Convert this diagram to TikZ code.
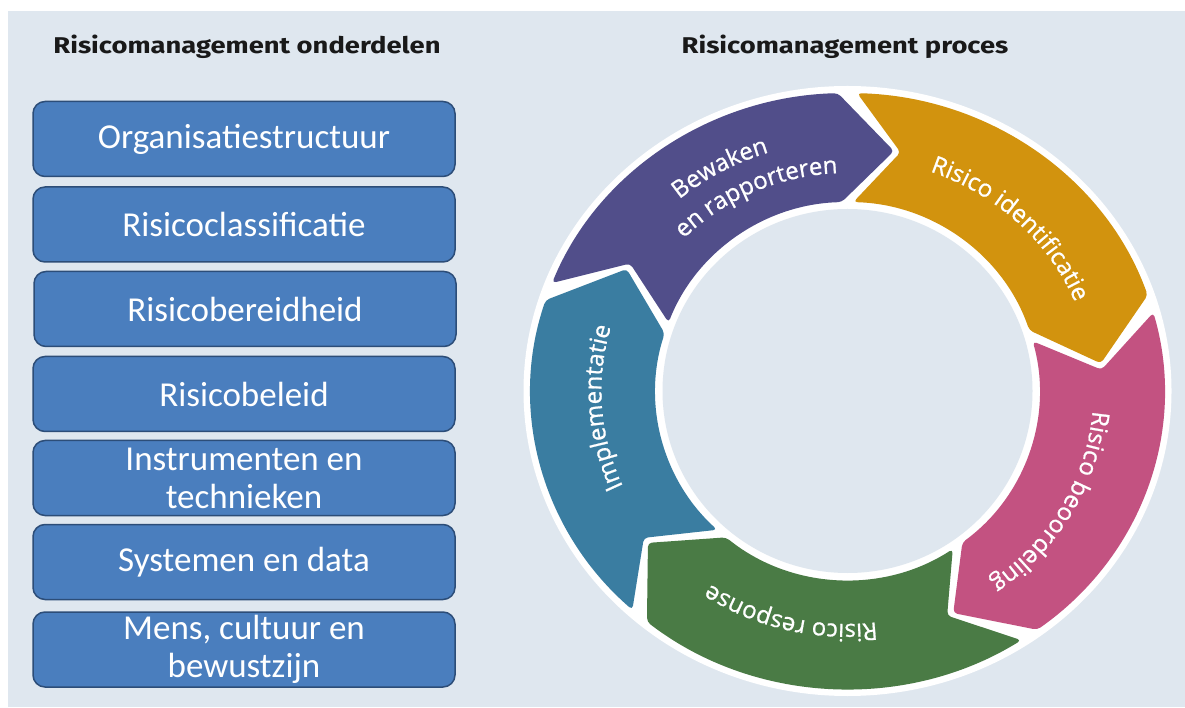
\documentclass[tikz,border=0pt]{standalone}
\usepackage{fontspec}
\usetikzlibrary{calc,decorations.text}
\setmainfont{Carlito}
\newfontfamily\titlefont{Fira Sans}[FakeStretch=1.2]
\newfontfamily\ringfont{Open Sans}[FakeBold=0.8]
\definecolor{panel}{HTML}{DFE7EF}
\definecolor{boxfill}{HTML}{4A7EBE}
\definecolor{boxline}{HTML}{2C4D78}
\definecolor{cpurple}{HTML}{514E8A}
\definecolor{cgold}{HTML}{D2930E}
\definecolor{cpink}{HTML}{C35281}
\definecolor{cgreen}{HTML}{4A7B45}
\definecolor{cteal}{HTML}{3A7DA1}
\tikzset{
  title/.style={font=\titlefont\bfseries\fontsize{22.8}{26}\selectfont, text=black!90},
  partbox/.style={draw=boxline, fill=boxfill, line width=1.5pt, rounded corners=12pt,
    minimum width=422pt, minimum height=75pt, inner sep=0pt, text=white, align=center,
    font=\fontsize{35}{38}\selectfont},
}
% segment: colour, tail angle, head angle
\newcommand\ringseg[3]{%
  \fill[#1, rounded corners=4pt]
    ($(C)+({#2-1.75}:317pt and 298pt)$)
    arc[start angle={#2-1.75}, end angle={#3+1.75}, x radius=317pt, y radius=298pt]
    -- ($(C)+({#3-10.5}:255pt and 244pt)$)
    -- ($(C)+({#3+1.75}:192pt and 189pt)$)
    arc[start angle={#3+1.75}, end angle={#2-1.75}, x radius=192pt, y radius=189pt]
    -- ($(C)+({#2-12}:255pt and 244pt)$)
    -- cycle;}
% label: centre angle, x radius, y radius, text
\newcommand\ringlabel[4]{%
  \path[decorate, decoration={text along path, text align=center,
      text={|\ringfont\fontsize{24}{28}\selectfont\color{white}|#4}}]
    ($(C)+({#1+60}:#2pt and #3pt)$)
    arc[start angle={#1+60}, end angle={#1-60}, x radius=#2pt, y radius=#3pt];}
\begin{document}
\begin{tikzpicture}[x=1pt,y=1pt]
\useasboundingbox (0,0) rectangle (1185,707);
\fill[white] (0,0) rectangle (1185,707);
\fill[panel] (8,0) rectangle (1185,696);

\node[title] (t1) at (247,660) {Risicomanagement onderdelen};
\node[title] (t2) at (845,660) {Risicomanagement proces};

\node[partbox] (b1) at (244,568) {Organisatiestructuur};
\node[partbox] (b2) at (244,482.5) {Risicoclassificatie};
\node[partbox] (b3) at (245,398) {Risicobereidheid};
\node[partbox] (b4) at (244,313) {Risicobeleid};
\node[partbox] (b5) at (244,229) {Instrumenten en\\technieken};
\node[partbox] (b6) at (244,145) {Systemen en data};
\node[partbox] (b7) at (244,57.5) {Mens, cultuur en\\bewustzijn};

\coordinate (C) at (847.5,316);
\fill[white] (C) ellipse [x radius=324pt, y radius=305pt];
\fill[panel] (C) ellipse [x radius=185pt, y radius=182pt];

\ringseg{cpurple}{160.5}{90}
\ringseg{cgold}{90}{17}
\ringseg{cpink}{17}{-55}
\ringseg{cgreen}{-55}{-131}
\ringseg{cteal}{229}{160.5}

\ringlabel{119.5}{262}{250}{Bewaken}
\ringlabel{114.7}{229}{218}{en rapporteren}
\ringlabel{45.5}{246}{233}{Risico identificatie}
\ringlabel{-29}{246}{233}{Risico beoordeling}
\ringlabel{-104}{246}{233}{Risico response}
\ringlabel{184}{246}{233}{Implementatie}
\end{tikzpicture}
\end{document}
